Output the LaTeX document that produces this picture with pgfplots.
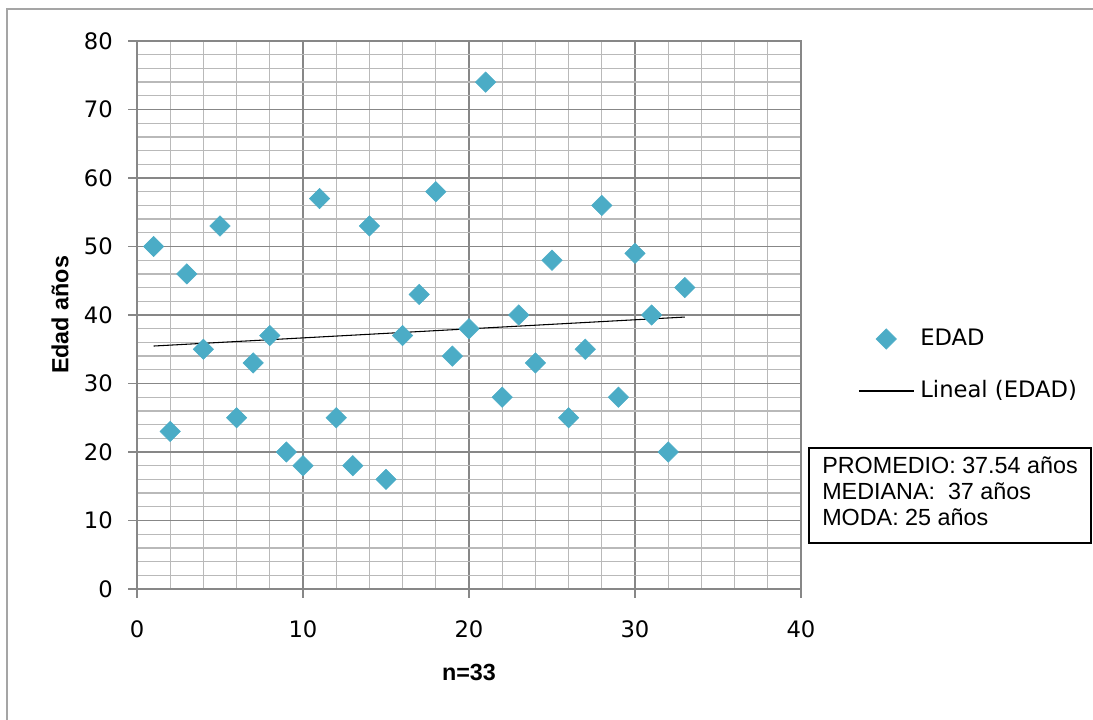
\documentclass[border=0pt]{standalone}
\usepackage{pgfplots}
\pgfplotsset{compat=1.18}
\usepackage{fontspec}
\setmainfont{DejaVu Sans}
\newfontfamily\lib{Liberation Sans}
\definecolor{mk}{RGB}{75,172,198}
\definecolor{majg}{RGB}{135,135,135}
\definecolor{ming}{RGB}{185,185,185}
\definecolor{frameg}{RGB}{165,165,165}
\pgfplotsset{
  mklegend/.style={legend image code/.code={\draw[##1, mark repeat=2, mark phase=2] plot coordinates {(0pt,0pt) (20.6pt,0pt) (41.25pt,0pt)};}},
  lnlegend/.style={legend image code/.code={\draw[##1] (0pt,0pt) -- (41.25pt,0pt);}}
}
\begin{document}
\begin{tikzpicture}
\useasboundingbox (-102.75pt,-97.5pt) rectangle (717pt,441.75pt);
\draw[frameg, line width=1.6pt] (-97.5pt,-110pt) -- (-97.5pt,435pt) -- (730pt,435pt);
\begin{axis}[
  at={(0pt,0pt)}, anchor=south west,
  scale only axis, width=498pt, height=411pt,
  xmin=0, xmax=40, ymin=0, ymax=80,
  xtick={0,10,...,40}, ytick={0,10,...,80},
  minor x tick num=4, minor y tick num=4,
  grid=both,
  major grid style={majg, line width=1.1pt},
  minor grid style={ming, line width=1pt},
  axis line style={majg, line width=1.1pt},
  tick align=outside, major tick length=6.5pt, minor tick length=0pt,
  tick style={majg, line width=1.1pt},
  xtick pos=bottom, ytick pos=left,
  /pgf/number format/assume math mode=true,
  ticklabel style={font=\fontsize{17}{20}\selectfont, text=black},
  yticklabel style={anchor=east, inner sep=0pt, xshift=-11.5pt},
  xticklabel style={anchor=north, inner sep=0pt, yshift=-16.75pt},
  xlabel={\lib\bfseries n=33},
  ylabel={\lib\bfseries Edad años},
  label style={font=\fontsize{17.5}{20}\selectfont},
  xlabel style={at={(axis description cs:0.5,-0.15146)}, anchor=center},
  ylabel style={at={(axis description cs:-0.116,0.5)}, anchor=center},
  legend style={draw=none, fill=none, inner sep=0pt,
    at={(axis description cs:1.08584,0.40876)}, anchor=west,
    font=\fontsize{17}{20}\selectfont,
    nodes={inner sep=0pt, text height=13pt, text depth=3pt},
    row sep=23pt, column sep=4.5pt},
  legend cell align=left,
]
\addplot[only marks, mark=square*, mark size=5.4pt,
  mark options={rotate=45, fill=mk, draw=mk}, mklegend]
coordinates {
(1,50) (2,23) (3,46) (4,35) (5,53) (6,25) (7,33) (8,37) (9,20) (10,18)
(11,57) (12,25) (13,18) (14,53) (15,16) (16,37) (17,43) (18,58) (19,34) (20,38)
(21,74) (22,28) (23,40) (24,33) (25,48) (26,25) (27,35) (28,56) (29,28) (30,49)
(31,40) (32,20) (33,44)};
\addlegendentry{EDAD}
\addplot[black, line width=0.8pt, lnlegend]
coordinates {(1,35.47) (33,39.7)};
\addlegendentry{Lineal (EDAD)}
\end{axis}
\draw[black, line width=1.1pt] (504pt,34.5pt) rectangle (715.5pt,105.75pt);
\node[anchor=base west, inner sep=0pt, font=\lib\fontsize{17.5}{20}\selectfont] at (513.75pt,87pt) {PROMEDIO: 37.54 años};
\node[anchor=base west, inner sep=0pt, font=\lib\fontsize{17.5}{20}\selectfont] at (513.75pt,67.5pt) {MEDIANA:~ 37 años};
\node[anchor=base west, inner sep=0pt, font=\lib\fontsize{17.5}{20}\selectfont] at (513.75pt,48pt) {MODA: 25 años};
\end{tikzpicture}
\end{document}
